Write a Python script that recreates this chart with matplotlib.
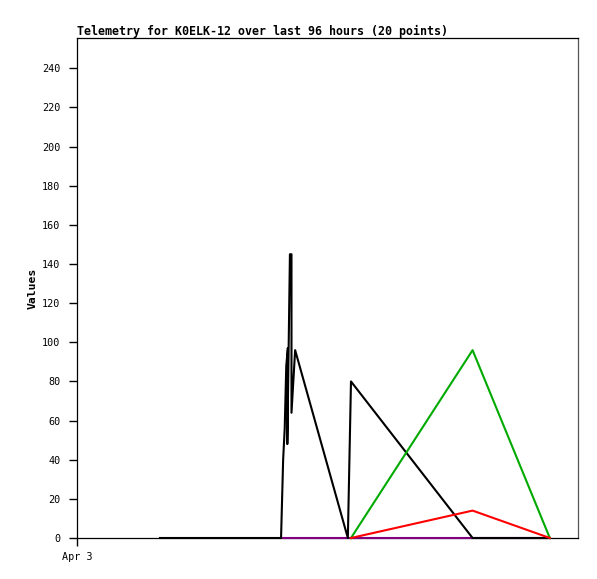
import matplotlib
matplotlib.use("Agg")
import matplotlib.pyplot as plt

# hours since Apr 3 00:00
black_t = [15.9, 39.1, 39.5, 39.8, 40.1, 40.4, 40.3, 40.8, 41.1, 41.1, 41.8, 51.9, 52.5, 75.8, 90.6]
black_v = [0, 0, 40, 56, 88, 97, 48, 145, 145, 64, 96, 0, 80, 0, 0]
purple_t = [39.1, 52.5, 75.8, 90.6]
purple_v = [0, 0, 0, 0]
green_t = [52.5, 75.8, 90.6]
green_v = [0, 96, 0]
red_t = [52.5, 75.8, 90.6]
red_v = [0, 14, 0]
y_ticks = list(range(0, 241, 20))
x_tick_pos = [0]
x_tick_labels = ["Apr 3"]
title = "Telemetry for K0ELK-12 over last 96 hours (20 points)"

fig = plt.figure(figsize=(5.97, 5.79), dpi=100)
ax = fig.add_axes([77/597, 41/579, 501/597, 500/579])
mono = "DejaVu Sans Mono"
lw = 1.5
ax.plot(purple_t, purple_v, color="#800080", lw=lw, clip_on=False, zorder=3)
ax.plot(black_t, black_v, color="black", lw=lw, clip_on=False, zorder=4)
ax.plot(green_t, green_v, color="#00aa00", lw=lw, clip_on=False, zorder=5)
ax.plot(red_t, red_v, color="#ff0000", lw=lw, clip_on=False, zorder=6)

ax.set_xlim(0, 96)
ax.set_ylim(0, 255.5)
ax.set_yticks(y_ticks)
ax.set_yticklabels([str(v) for v in y_ticks], family=mono, fontsize=7.3)
ax.set_xticks(x_tick_pos)
ax.set_xticklabels(x_tick_labels, family=mono, fontsize=7.3)
ax.tick_params(axis="y", direction="out", length=6, width=1, pad=6)
ax.tick_params(axis="x", direction="out", length=6, width=1, pad=4)
for s in ax.spines.values():
    s.set_linewidth(0.9)
    s.set_color("black")
ax.spines["right"].set_color("#555555")
ax.set_title(title, loc="left", family=mono, fontweight="bold", fontsize=8.35, pad=2)
ax.set_ylabel("Values", family=mono, fontweight="bold", fontsize=8.2, labelpad=3)
fig.savefig("out.png", dpi=100)
